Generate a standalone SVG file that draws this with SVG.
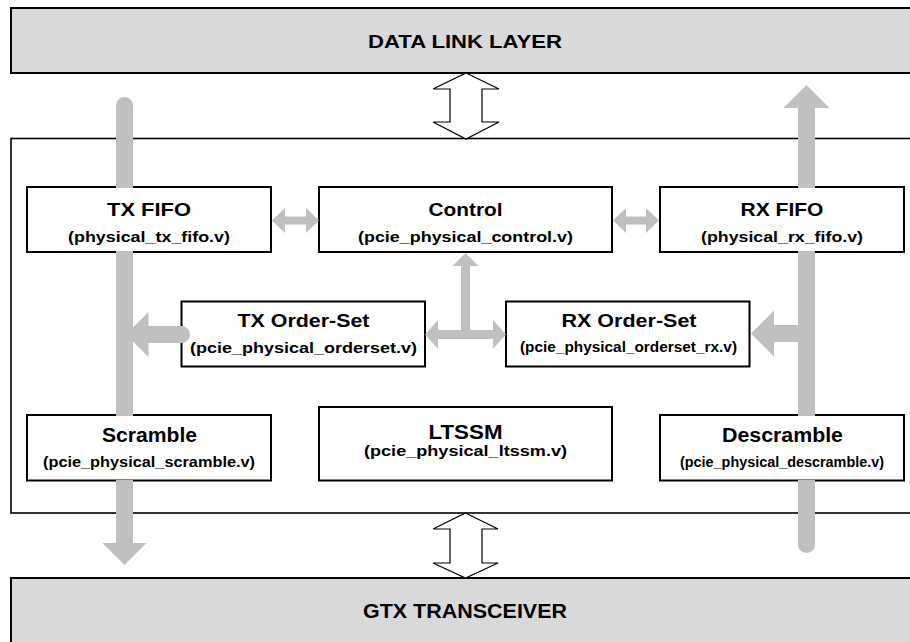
<svg xmlns="http://www.w3.org/2000/svg" width="910" height="642" viewBox="0 0 910 642">
<defs>
<style>
.layer{fill:#d9d9d9;stroke:#000;stroke-width:2}
.frame{fill:#fff;stroke:#000;stroke-width:1.6}
.box{fill:#fff;stroke:#000;stroke-width:2}
.gray{fill:#c0c0c0;stroke:none}
.hollow{fill:#fff;stroke:#000;stroke-width:1.2;stroke-linejoin:miter}
text{font-family:"Liberation Sans",Arial,sans-serif;font-weight:bold;fill:#000;text-anchor:middle}
.t{font-size:18.5px}
.t2{font-size:19.5px}
.s{font-size:15.5px}
.s2{font-size:14.5px}
</style>
</defs>
<rect width="910" height="642" fill="#fff"/>

<g id="data-link-layer">
<rect class="layer" x="11" y="8" width="910" height="65"/>
<text class="t" x="465" y="48" textLength="194" lengthAdjust="spacingAndGlyphs">DATA LINK LAYER</text>
</g>

<g id="physical-layer">
<rect class="frame" x="11" y="138.5" width="910" height="374.5"/>
</g>

<g id="gtx-transceiver">
<rect class="layer" x="11" y="578" width="910" height="80"/>
<text class="t2" x="465" y="618" textLength="204" lengthAdjust="spacingAndGlyphs">GTX TRANSCEIVER</text>
</g>

<g id="tx-fifo">
<rect class="box" x="27" y="187" width="244" height="65"/>
<text class="t" x="149" y="215.5" textLength="84" lengthAdjust="spacingAndGlyphs">TX FIFO</text>
<text class="s" x="149" y="241.5" textLength="162" lengthAdjust="spacingAndGlyphs">(physical_tx_fifo.v)</text>
</g>

<g id="control">
<rect class="box" x="319" y="187" width="293" height="65"/>
<text class="t" x="465.5" y="215.5" textLength="74" lengthAdjust="spacingAndGlyphs">Control</text>
<text class="s" x="465.5" y="241.5" textLength="215" lengthAdjust="spacingAndGlyphs">(pcie_physical_control.v)</text>
</g>

<g id="rx-fifo">
<rect class="box" x="660" y="187" width="244" height="65"/>
<text class="t" x="782" y="215.5" textLength="83" lengthAdjust="spacingAndGlyphs">RX FIFO</text>
<text class="s" x="782" y="241.5" textLength="162" lengthAdjust="spacingAndGlyphs">(physical_rx_fifo.v)</text>
</g>

<g id="tx-order-set">
<rect class="box" x="181.5" y="301.5" width="243.5" height="65"/>
<text class="t" x="303.5" y="327" textLength="132" lengthAdjust="spacingAndGlyphs">TX Order-Set</text>
<text class="s" x="303.5" y="353" textLength="227" lengthAdjust="spacingAndGlyphs">(pcie_physical_orderset.v)</text>
</g>

<g id="rx-order-set">
<rect class="box" x="506" y="301.5" width="243.5" height="65"/>
<text class="t" x="629" y="327" textLength="135" lengthAdjust="spacingAndGlyphs">RX Order-Set</text>
<text class="s2" x="628.5" y="352" textLength="217" lengthAdjust="spacingAndGlyphs">(pcie_physical_orderset_rx.v)</text>
</g>

<g id="scramble">
<rect class="box" x="27" y="415" width="244" height="65.5"/>
<text class="t2" x="149.5" y="442" textLength="95" lengthAdjust="spacingAndGlyphs">Scramble</text>
<text class="s2" x="149" y="467" textLength="212" lengthAdjust="spacingAndGlyphs">(pcie_physical_scramble.v)</text>
</g>

<g id="ltssm">
<rect class="box" x="319" y="407" width="293" height="73.5"/>
<text class="t2" x="465.5" y="439" textLength="74" lengthAdjust="spacingAndGlyphs">LTSSM</text>
<text class="s" x="465.5" y="456" textLength="203" lengthAdjust="spacingAndGlyphs">(pcie_physical_ltssm.v)</text>
</g>

<g id="descramble">
<rect class="box" x="660" y="415" width="244" height="65.5"/>
<text class="t2" x="782.5" y="442" textLength="121" lengthAdjust="spacingAndGlyphs">Descramble</text>
<text class="s2" x="782" y="467" textLength="204" lengthAdjust="spacingAndGlyphs">(pcie_physical_descramble.v)</text>
</g>

<g id="connectors">
<!-- hollow interface arrows -->
<path class="hollow" d="M466,73 L499,89 H482 V122 H499 L466,139 L433,122 H450 V89 H433 Z"/>
<path class="hollow" d="M465.5,513 L498,529 H482 V563 H498 L465.5,578 L433,563 H450 V529 H433 Z"/>

<!-- TX data path (left bar, down) -->
<path class="gray" d="M116,188 V105.5 A8.5,8.5 0 0 1 133,105.5 V188 Z"/>
<rect class="gray" x="116" y="251" width="17" height="165"/>
<path class="gray" d="M116,480 V543 H102.5 L124.5,565 L146.5,543 H133 V480 Z"/>

<!-- RX data path (right bar, up) -->
<path class="gray" d="M806.5,85 L829.5,108 H815 V188 H798 V108 H783.5 Z"/>
<rect class="gray" x="798" y="251" width="17" height="165"/>
<path class="gray" d="M798,480 V544.5 A8.5,8.5 0 0 0 815,544.5 V480 Z"/>

<!-- TX Order-Set to TX path -->
<path class="gray" d="M126,334.5 L148.5,312 V326 H181.5 A8.5,8.5 0 0 1 181.5,343 H148.5 V357 Z"/>
<!-- RX path to RX Order-Set -->
<path class="gray" d="M751,333.5 L774,310.5 V325 H799 V342 H774 V356.5 Z"/>

<!-- TX FIFO <-> Control -->
<path class="gray" d="M272,220.5 L285,208 V216.5 H306 V208 L319,220.5 L306,233 V224.5 H285 V233 Z"/>
<!-- Control <-> RX FIFO -->
<path class="gray" d="M613,220.5 L626,208 V216.5 H646 V208 L659,220.5 L646,233 V224.5 H626 V233 Z"/>

<!-- Control <-> Order-Sets -->
<path class="gray" d="M465.5,253 L478.5,266 H470 V330 H493 V320 L506,334.5 L493,349 V339 H438 V349 L425,334.5 L438,320 V330 H461 V266 H452.5 Z"/>
</g>
</svg>
